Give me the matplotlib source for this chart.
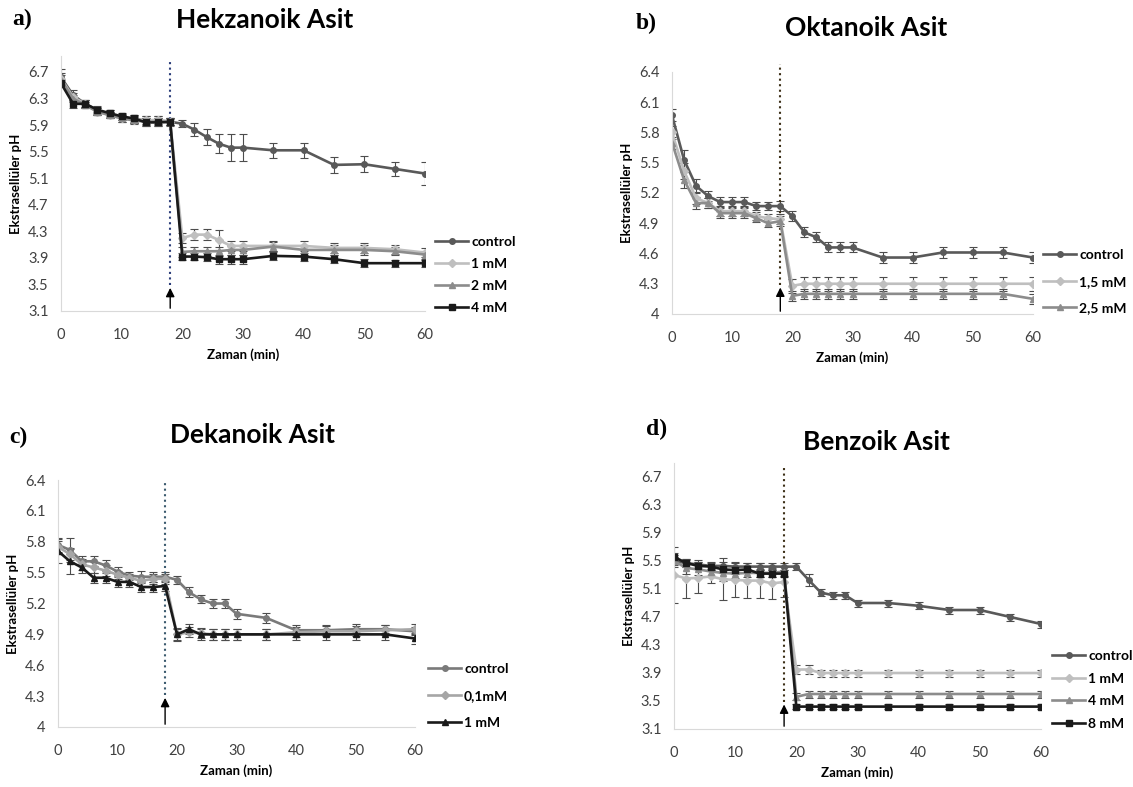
import numpy as np
import matplotlib
matplotlib.use("Agg")
import matplotlib.pyplot as plt
from matplotlib.lines import Line2D

plt.rcParams['font.family'] = ['Lato', 'DejaVu Sans']

# zaman noktalari (dk)
time = [0, 2, 4, 6, 8, 10, 12, 14, 16, 18, 20, 22, 24, 26, 28, 30, 35, 40, 45, 50, 55, 60]

# a) Hekzanoik asit
hek_control = [6.62, 6.35, 6.22, 6.12, 6.07, 6.02, 5.99, 5.97, 5.97, 5.95, 5.92, 5.83, 5.72, 5.62, 5.56, 5.56, 5.52, 5.52, 5.30, 5.31, 5.24, 5.17]
hek_control_err = [0.12, 0.08, 0.06, 0.05, 0.05, 0.05, 0.06, 0.07, 0.07, 0.05, 0.05, 0.10, 0.12, 0.14, 0.20, 0.20, 0.11, 0.11, 0.12, 0.12, 0.10, 0.18]
hek_1mM = [6.60, 6.32, 6.22, 6.10, 6.05, 6.00, 5.98, 5.97, 5.98, 5.95, 4.20, 4.25, 4.25, 4.17, 4.08, 4.08, 4.08, 4.08, 4.05, 4.05, 4.03, 3.98]
hek_1mM_err = [0.08, 0.06, 0.05, 0.05, 0.05, 0.05, 0.05, 0.06, 0.06, 0.05, 0.08, 0.08, 0.08, 0.15, 0.08, 0.08, 0.08, 0.08, 0.08, 0.08, 0.07, 0.07]
hek_2mM = [6.58, 6.30, 6.20, 6.10, 6.05, 6.00, 5.97, 5.95, 5.95, 5.94, 3.99, 4.00, 4.00, 4.00, 4.02, 4.02, 4.07, 4.02, 4.02, 4.02, 4.00, 3.95]
hek_2mM_err = [0.08, 0.06, 0.05, 0.05, 0.05, 0.05, 0.05, 0.06, 0.06, 0.05, 0.07, 0.07, 0.07, 0.07, 0.07, 0.07, 0.07, 0.07, 0.07, 0.07, 0.06, 0.06]
hek_4mM = [6.53, 6.22, 6.22, 6.13, 6.08, 6.03, 6.00, 5.94, 5.94, 5.95, 3.92, 3.92, 3.91, 3.88, 3.88, 3.88, 3.93, 3.92, 3.88, 3.82, 3.82, 3.82]
hek_4mM_err = [0.05, 0.06, 0.05, 0.05, 0.05, 0.05, 0.05, 0.06, 0.06, 0.05, 0.05, 0.05, 0.06, 0.07, 0.07, 0.07, 0.06, 0.06, 0.06, 0.06, 0.05, 0.05]

# b) Oktanoik asit
okt_control = [5.97, 5.53, 5.27, 5.17, 5.11, 5.11, 5.11, 5.07, 5.07, 5.07, 4.97, 4.81, 4.76, 4.66, 4.66, 4.66, 4.56, 4.56, 4.61, 4.61, 4.61, 4.56]
okt_control_err = [0.06, 0.10, 0.07, 0.05, 0.05, 0.05, 0.05, 0.04, 0.04, 0.05, 0.05, 0.05, 0.05, 0.05, 0.05, 0.05, 0.05, 0.05, 0.05, 0.05, 0.05, 0.05]
okt_15mM = [5.80, 5.42, 5.15, 5.10, 5.02, 5.02, 5.02, 4.97, 4.95, 4.94, 4.28, 4.30, 4.30, 4.30, 4.30, 4.30, 4.30, 4.30, 4.30, 4.30, 4.30, 4.30]
okt_15mM_err = [0.06, 0.08, 0.06, 0.05, 0.05, 0.05, 0.05, 0.04, 0.04, 0.05, 0.07, 0.07, 0.07, 0.07, 0.07, 0.07, 0.07, 0.07, 0.07, 0.07, 0.07, 0.07]
okt_25mM = [5.70, 5.33, 5.10, 5.10, 5.00, 5.00, 5.00, 4.95, 4.90, 4.92, 4.18, 4.20, 4.20, 4.20, 4.20, 4.20, 4.20, 4.20, 4.20, 4.20, 4.20, 4.15]
okt_25mM_err = [0.06, 0.08, 0.06, 0.05, 0.05, 0.05, 0.05, 0.04, 0.04, 0.05, 0.05, 0.05, 0.05, 0.05, 0.05, 0.05, 0.05, 0.05, 0.05, 0.05, 0.05, 0.05]

# c) Dekanoik asit
dek_control = [5.77, 5.72, 5.61, 5.61, 5.57, 5.51, 5.47, 5.46, 5.46, 5.46, 5.43, 5.31, 5.24, 5.20, 5.20, 5.10, 5.06, 4.94, 4.94, 4.95, 4.95, 4.93]
dek_control_err = [0.07, 0.12, 0.05, 0.05, 0.05, 0.04, 0.04, 0.06, 0.05, 0.05, 0.04, 0.05, 0.04, 0.04, 0.04, 0.05, 0.05, 0.05, 0.05, 0.05, 0.04, 0.04]
dek_01mM = [5.75, 5.68, 5.58, 5.55, 5.52, 5.48, 5.45, 5.42, 5.44, 5.44, 4.90, 4.92, 4.91, 4.90, 4.90, 4.90, 4.90, 4.92, 4.93, 4.93, 4.94, 4.95]
dek_01mM_err = [0.06, 0.06, 0.05, 0.05, 0.05, 0.04, 0.04, 0.05, 0.05, 0.05, 0.05, 0.05, 0.05, 0.05, 0.05, 0.05, 0.05, 0.05, 0.05, 0.05, 0.05, 0.05]
dek_1mM = [5.71, 5.61, 5.55, 5.45, 5.45, 5.41, 5.41, 5.36, 5.36, 5.37, 4.90, 4.95, 4.90, 4.90, 4.90, 4.90, 4.90, 4.90, 4.90, 4.90, 4.90, 4.86]
dek_1mM_err = [0.12, 0.12, 0.05, 0.05, 0.05, 0.05, 0.05, 0.05, 0.05, 0.05, 0.06, 0.05, 0.05, 0.05, 0.05, 0.05, 0.05, 0.05, 0.05, 0.05, 0.05, 0.05]

# d) Benzoik asit
ben_control = [5.50, 5.47, 5.45, 5.43, 5.43, 5.42, 5.42, 5.42, 5.42, 5.42, 5.42, 5.23, 5.05, 5.01, 5.01, 4.90, 4.90, 4.86, 4.80, 4.80, 4.70, 4.60]
ben_control_err = [0.06, 0.06, 0.06, 0.06, 0.06, 0.05, 0.05, 0.05, 0.05, 0.05, 0.05, 0.09, 0.05, 0.05, 0.05, 0.05, 0.05, 0.05, 0.05, 0.05, 0.05, 0.05]
ben_1mM = [5.30, 5.25, 5.26, 5.28, 5.24, 5.23, 5.22, 5.22, 5.18, 5.20, 3.95, 3.95, 3.90, 3.90, 3.90, 3.90, 3.90, 3.90, 3.90, 3.90, 3.90, 3.90]
ben_1mM_err = [0.40, 0.28, 0.22, 0.10, 0.30, 0.25, 0.25, 0.25, 0.22, 0.22, 0.06, 0.06, 0.05, 0.05, 0.05, 0.05, 0.05, 0.05, 0.05, 0.05, 0.05, 0.05]
ben_4mM = [5.50, 5.40, 5.38, 5.35, 5.33, 5.32, 5.33, 5.33, 5.33, 5.35, 3.56, 3.60, 3.60, 3.60, 3.60, 3.60, 3.60, 3.60, 3.60, 3.60, 3.60, 3.60]
ben_4mM_err = [0.08, 0.08, 0.08, 0.08, 0.12, 0.06, 0.06, 0.06, 0.06, 0.06, 0.05, 0.05, 0.05, 0.05, 0.05, 0.05, 0.05, 0.05, 0.05, 0.05, 0.05, 0.05]
ben_8mM = [5.56, 5.47, 5.43, 5.42, 5.38, 5.37, 5.38, 5.32, 5.32, 5.32, 3.42, 3.42, 3.42, 3.42, 3.42, 3.42, 3.42, 3.42, 3.42, 3.42, 3.42, 3.42]
ben_8mM_err = [0.05, 0.05, 0.05, 0.05, 0.05, 0.05, 0.05, 0.05, 0.05, 0.05, 0.04, 0.04, 0.04, 0.04, 0.04, 0.04, 0.04, 0.04, 0.04, 0.04, 0.04, 0.04]

W, H = 1133, 787
fig = plt.figure(figsize=(W / 100, H / 100), dpi=100)


def px_axes(x0, x1, ytop, ybot):
    return fig.add_axes([x0 / W, 1 - ybot / H, (x1 - x0) / W, (ybot - ytop) / H])


def draw_panel(ax, series, ylim, yticks, arrow_tip, dot_top, dot_color, legend_xy, spacing):
    handles = []
    for y, err, color, marker, label in series:
        ax.errorbar(time, y, yerr=err, color=color, lw=1.9, marker=marker, ms=4,
                    ecolor='#4d4d4d', elinewidth=0.8, capsize=3, capthick=0.8)
        handles.append(Line2D([], [], color=color, lw=1.9, marker=marker, ms=4, label=label))
    ax.set_xlim(0, 60)
    ax.set_ylim(*ylim)
    ax.set_yticks(yticks)
    ax.set_yticklabels([f"{v:g}" for v in yticks])
    ax.set_xticks([0, 10, 20, 30, 40, 50, 60])
    ax.tick_params(length=0, labelsize=10.5, colors='#404040')
    ax.tick_params(axis='y', pad=9)
    ax.tick_params(axis='x', pad=12)
    for s in ['top', 'right']:
        ax.spines[s].set_visible(False)
    for s in ['left', 'bottom']:
        ax.spines[s].set_color('#d9d9d9')
    ax.set_ylabel('Ekstrasellüler pH', fontsize=9.5, fontweight='bold', labelpad=4)
    ax.set_xlabel('Zaman (min)', fontsize=9.5, fontweight='bold', labelpad=5)
    # enjeksiyon noktasi
    ax.plot([18, 18], [arrow_tip, dot_top], ls=':', color=dot_color, lw=1.5, clip_on=False)
    ax.annotate('', xy=(18, arrow_tip), xytext=(18, ylim[0]),
                arrowprops=dict(arrowstyle='-|>', color='black', lw=1, mutation_scale=13))
    ax.legend(handles=handles, loc='upper left',
              bbox_to_anchor=(legend_xy[0] / W, 1 - legend_xy[1] / H),
              bbox_transform=fig.transFigure, frameon=False,
              prop={'weight': 'bold', 'size': 10}, handlelength=2.4, handletextpad=0.2,
              labelspacing=spacing, borderpad=0, borderaxespad=0)


c_dark = '#595959'
c_light = '#bfbfbf'
c_mid = '#8c8c8c'
c_black = '#1a1a1a'

ax_a = px_axes(61, 425, 56, 311)
draw_panel(ax_a,
           [(hek_control, hek_control_err, c_dark, 'o', 'control'),
            (hek_1mM, hek_1mM_err, c_light, 'D', '1 mM'),
            (hek_2mM, hek_2mM_err, c_mid, '^', '2 mM'),
            (hek_4mM, hek_4mM_err, c_black, 's', '4 mM')],
           (3.1, 6.94), [3.1, 3.5, 3.9, 4.3, 4.7, 5.1, 5.5, 5.9, 6.3, 6.7],
           3.49, 6.85, '#2c3e7a', (435, 236), 0.72)

ax_b = px_axes(672, 1033, 72, 314)
draw_panel(ax_b,
           [(okt_control, okt_control_err, c_dark, 'o', 'control'),
            (okt_15mM, okt_15mM_err, c_light, 'D', '1,5 mM'),
            (okt_25mM, okt_25mM_err, c_mid, '^', '2,5 mM')],
           (4, 6.4), [4, 4.3, 4.6, 4.9, 5.2, 5.5, 5.8, 6.1, 6.4],
           4.29, 6.48, '#3d3018', (1043, 249), 1.05)

ax_c = px_axes(58, 415, 480, 727)
draw_panel(ax_c,
           [(dek_control, dek_control_err, '#7a7a7a', 'o', 'control'),
            (dek_01mM, dek_01mM_err, '#a6a6a6', 'D', '0,1mM'),
            (dek_1mM, dek_1mM_err, c_black, '^', '1 mM')],
           (4, 6.4), [4, 4.3, 4.6, 4.9, 5.2, 5.5, 5.8, 6.1, 6.4],
           4.31, 6.4, '#3b5a6e', (428, 663), 1.07)

ax_d = px_axes(674, 1041, 463, 729)
draw_panel(ax_d,
           [(ben_control, ben_control_err, c_dark, 'o', 'control'),
            (ben_1mM, ben_1mM_err, c_light, 'D', '1 mM'),
            (ben_4mM, ben_4mM_err, c_mid, '^', '4 mM'),
            (ben_8mM, ben_8mM_err, c_black, 's', '8 mM')],
           (3.1, 6.9), [3.1, 3.5, 3.9, 4.3, 4.7, 5.1, 5.5, 5.9, 6.3, 6.7],
           3.49, 6.83, '#3d3018', (1052, 650), 0.76)

# basliklar ve panel etiketleri
titles = [('Hekzanoik Asit', 265, 20), ('Oktanoik Asit', 866, 28),
          ('Dekanoik Asit', 252, 435), ('Benzoik Asit', 876, 442)]
for text, x, y in titles:
    fig.text(x / W, 1 - y / H, text, ha='center', va='center', fontsize=19, fontweight='bold')
panels = [('a)', 12, 19), ('b)', 636, 23), ('c)', 9, 437), ('d)', 646, 429)]
for text, x, y in panels:
    fig.text(x / W, 1 - y / H, text, ha='left', va='center', fontsize=17, fontweight='bold',
             family='Liberation Serif')

fig.savefig('out.png', dpi=100, facecolor='white')
